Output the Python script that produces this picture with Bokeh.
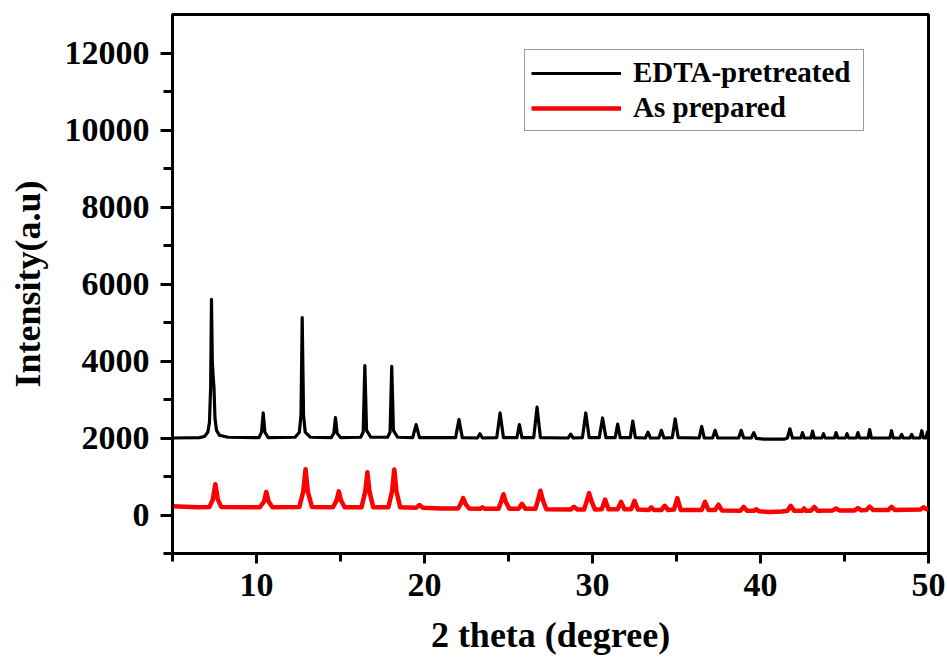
from bokeh.plotting import figure
from bokeh.models import FixedTicker, Legend, LegendItem, Range1d
from bokeh.embed import file_html
from bokeh.resources import INLINE

# ---------------- data ----------------
series_names = ["EDTA-pretreated", "As prepared"]

edta_x = [5.0, 6.6, 6.9, 7.1, 7.2, 7.27, 7.32, 7.37, 7.42, 7.47, 7.53, 7.62, 7.8, 8.3,
          10.15, 10.3, 10.4, 10.5, 10.7,
          12.3, 12.55, 12.65, 12.72, 12.8, 12.9, 13.2,
          14.45, 14.6, 14.7, 14.8, 15.0,
          16.2, 16.35, 16.45, 16.55, 16.8,
          17.8, 17.95, 18.05, 18.15, 18.4,
          19.3, 19.5, 19.7,
          21.85, 22.05, 22.25,
          23.15, 23.3, 23.45,
          24.3, 24.5, 24.7,
          25.5, 25.65, 25.8,
          26.5, 26.7, 26.9,
          28.55, 28.7, 28.85,
          29.4, 29.6, 29.8,
          30.4, 30.6, 30.8,
          31.35, 31.5, 31.65,
          32.25, 32.4, 32.55,
          33.15, 33.3, 33.45,
          33.95, 34.1, 34.25,
          34.75, 34.92, 35.1,
          36.35, 36.5, 36.65,
          37.15, 37.3, 37.45,
          38.7, 38.85, 39.0,
          39.45, 39.6, 39.75, 40.2, 41.4,
          41.6, 41.75, 41.9,
          42.4, 42.5, 42.6,
          43.0, 43.1, 43.2,
          43.65, 43.75, 43.85,
          44.4, 44.5, 44.6,
          45.05, 45.15, 45.25,
          45.7, 45.8, 45.9,
          46.4, 46.5, 46.6,
          47.7, 47.8, 47.9,
          48.3, 48.4, 48.5,
          48.9, 49.0, 49.1,
          49.5, 49.6, 49.7,
          49.85, 49.93, 50.0]
edta_y = [2000, 2010, 2040, 2150, 2400, 3300, 5600, 4000, 3600, 3300, 2500, 2200, 2070, 2020,
          2010, 2150, 2650, 2150, 2010,
          2020, 2150, 2600, 5130, 2600, 2150, 2020,
          2010, 2120, 2530, 2120, 2010,
          2020, 2150, 3880, 2200, 2020,
          2020, 2150, 3860, 2200, 2020,
          2010, 2350, 2010,
          2010, 2480, 2010,
          2000, 2110, 2000,
          2010, 2650, 2010,
          2010, 2350, 2010,
          2010, 2800, 2010,
          2000, 2100, 2000,
          2010, 2650, 2010,
          2010, 2520, 2010,
          2010, 2360, 2010,
          2010, 2440, 2010,
          2000, 2150, 2000,
          2000, 2200, 2000,
          2010, 2500, 2010,
          2000, 2300, 2000,
          2000, 2200, 2000,
          2000, 2200, 2000,
          2000, 2140, 1990, 1970, 1970,
          2000, 2240, 2000,
          2000, 2140, 2000,
          2000, 2180, 2000,
          2000, 2110, 2000,
          2000, 2140, 2000,
          2000, 2110, 2000,
          2000, 2140, 2000,
          2000, 2220, 2000,
          2000, 2190, 2000,
          2000, 2090, 2000,
          2000, 2090, 2000,
          2000, 2190, 2000,
          2000, 2150, 2100]

prep_x = [5.0, 6.5, 7.2, 7.4, 7.55, 7.7, 7.9,
          10.2, 10.45, 10.58, 10.72, 10.95,
          12.55, 12.78, 12.92, 13.06, 13.3,
          14.55, 14.77, 14.9, 15.03, 15.25,
          16.25, 16.47, 16.6, 16.73, 16.95,
          17.85, 18.07, 18.2, 18.33, 18.55,
          19.5, 19.7, 19.9, 21.0,
          22.0, 22.15, 22.3, 22.45, 22.65,
          23.3, 23.45, 23.6,
          24.4, 24.55, 24.7, 24.85, 25.05,
          25.6, 25.8, 26.0,
          26.6, 26.75, 26.9, 27.05, 27.25,
          28.7, 28.9, 29.1,
          29.5, 29.65, 29.8, 29.95, 30.15,
          30.55, 30.75, 30.95,
          31.5, 31.7, 31.9,
          32.3, 32.5, 32.7,
          33.35, 33.5, 33.65,
          34.1, 34.3, 34.5,
          34.85, 35.05, 35.25,
          36.5, 36.7, 36.9,
          37.3, 37.5, 37.7,
          38.8, 39.0, 39.2,
          39.6, 39.75, 39.9, 40.5, 41.3,
          41.6, 41.8, 42.0,
          42.5, 42.6, 42.7,
          43.0, 43.2, 43.4,
          44.3, 44.5, 44.7,
          45.6, 45.8, 46.0,
          46.3, 46.5, 46.7,
          47.6, 47.8, 48.0,
          49.5, 49.7, 49.9, 50.0]
prep_y = [230, 200, 210, 400, 800, 400, 210,
          200, 350, 600, 350, 200,
          210, 600, 1190, 600, 210,
          200, 380, 615, 380, 200,
          200, 600, 1110, 600, 200,
          200, 620, 1180, 620, 200,
          190, 260, 190, 170,
          170, 280, 440, 280, 170,
          160, 200, 160,
          160, 330, 540, 330, 160,
          160, 290, 160,
          160, 380, 630, 380, 150,
          140, 215, 140,
          140, 350, 570, 350, 140,
          150, 400, 150,
          150, 340, 150,
          150, 370, 140,
          130, 200, 130,
          130, 240, 130,
          140, 440, 130,
          130, 340, 130,
          130, 270, 120,
          110, 210, 110,
          110, 150, 100, 80, 90,
          110, 240, 110,
          110, 170, 110,
          110, 210, 110,
          120, 170, 120,
          120, 180, 120,
          130, 220, 130,
          130, 210, 130,
          140, 200, 150, 160]

x_major = [10, 20, 30, 40, 50]
x_minor = [5, 15, 25, 35, 45]
y_major = [0, 2000, 4000, 6000, 8000, 10000, 12000]
y_minor = [-1000, 1000, 3000, 5000, 7000, 9000, 11000]

FONT = "Liberation Serif"

p = figure(width=947, height=664, output_backend="svg", toolbar_location=None,
           x_range=Range1d(5, 50), y_range=Range1d(-1000, 13000),
           min_border_left=172, min_border_right=19, min_border_top=14,
           min_border_bottom=111)
p.background_fill_color = "white"
p.border_fill_color = "white"
p.xgrid.visible = False
p.ygrid.visible = False
p.outline_line_color = "black"
p.outline_line_width = 3
p.outline_line_alpha = 1

r1 = p.line(edta_x, edta_y, line_color="black", line_width=3.2, line_join="round")
r2 = p.line(prep_x, prep_y, line_color="#ff0000", line_width=4.5, line_join="round")

for ax in (p.xaxis[0], p.yaxis[0]):
    ax.axis_line_width = 3
    ax.axis_line_color = "black"
    ax.major_tick_line_width = 3
    ax.minor_tick_line_width = 3
    ax.major_tick_in = 0
    ax.minor_tick_in = 0
    ax.major_label_text_font = FONT
    ax.major_label_text_font_style = "bold"
    ax.major_label_text_font_size = "34px"
    ax.major_label_text_color = "black"
    ax.axis_label_text_font = FONT
    ax.axis_label_text_font_style = "bold"
    ax.axis_label_text_font_size = "36px"
    ax.axis_label_text_color = "black"

p.xaxis[0].ticker = FixedTicker(ticks=x_major, minor_ticks=x_minor)
p.yaxis[0].ticker = FixedTicker(ticks=y_major, minor_ticks=y_minor)
p.xaxis[0].major_tick_out = 10
p.xaxis[0].minor_tick_out = 8
p.yaxis[0].major_tick_out = 12
p.yaxis[0].minor_tick_out = 9
p.xaxis[0].major_label_standoff = 10
p.yaxis[0].major_label_standoff = 11
p.xaxis[0].axis_label = "2 theta (degree)"
p.yaxis[0].axis_label = "Intensity(a.u)"
p.xaxis[0].axis_label_standoff = 16
p.yaxis[0].axis_label_standoff = 14

legend = Legend(items=[LegendItem(label=series_names[0], renderers=[r1]),
                       LegendItem(label=series_names[1], renderers=[r2])],
                location=(352, 422))
legend.label_text_font = FONT
legend.label_text_font_style = "bold"
legend.label_text_font_size = "29px"
legend.label_text_color = "black"
legend.border_line_color = "#333333"
legend.border_line_width = 1.5
legend.padding = 6
legend.margin = 0
legend.spacing = 2
legend.glyph_width = 90
legend.glyph_height = 30
legend.label_standoff = 12
legend.label_width = 224
legend.background_fill_alpha = 1
p.add_layout(legend)

open("out.html", "w").write(file_html(p, INLINE))
